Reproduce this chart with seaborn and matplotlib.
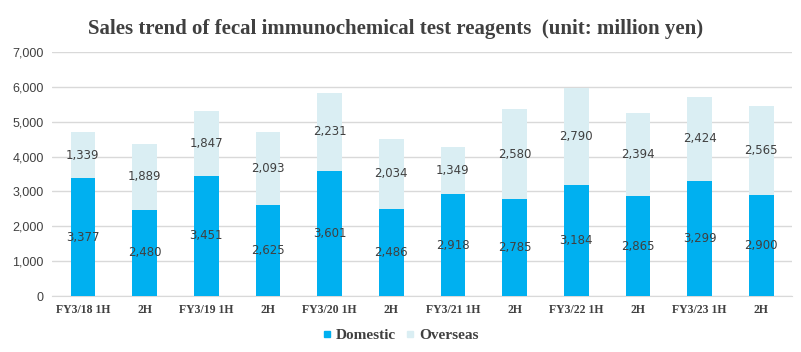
import matplotlib
matplotlib.use('Agg')
import matplotlib.pyplot as plt
import pandas as pd
import seaborn as sns
from matplotlib.lines import Line2D

# half-year periods
periods = ['FY3/18 1H', '2H', 'FY3/19 1H', '2H', 'FY3/20 1H', '2H',
           'FY3/21 1H', '2H', 'FY3/22 1H', '2H', 'FY3/23 1H', '2H']
domestic = [3377, 2480, 3451, 2625, 3601, 2486, 2918, 2785, 3184, 2865, 3299, 2900]
overseas = [1339, 1889, 1847, 2093, 2231, 2034, 1349, 2580, 2790, 2394, 2424, 2565]

col_dom = '#00B0F0'
col_ovs = '#DAEEF3'

df = pd.DataFrame({'id': [str(i) for i in range(len(periods))],
                   'Domestic': domestic, 'Overseas': overseas})
df['Total'] = df['Domestic'] + df['Overseas']

sns.set_style('white')
fig = plt.figure(figsize=(8.01, 3.52), dpi=100)
ax = fig.add_axes([0.065, 0.159, 0.924, 0.693])

# total bar first (overseas on top), domestic drawn over it
sns.barplot(data=df, x='id', y='Total', color=col_ovs, width=0.4, ax=ax,
            saturation=1, linewidth=0, zorder=2)
sns.barplot(data=df, x='id', y='Domestic', color=col_dom, width=0.4, ax=ax,
            saturation=1, linewidth=0, zorder=3)

# value labels in the middle of each segment
for i in range(len(periods)):
    ax.text(i, domestic[i] / 2, f'{domestic[i]:,}', ha='center', va='center',
            fontsize=8.5, color='#404040', family='DejaVu Sans', zorder=5)
    ax.text(i, domestic[i] + overseas[i] / 2, f'{overseas[i]:,}', ha='center',
            va='center', fontsize=8.5, color='#404040', family='DejaVu Sans', zorder=5)

ax.set_ylim(0, 7000)
ax.set_yticks(range(0, 7001, 1000))
ax.set_yticklabels([f'{v:,}' for v in range(0, 7001, 1000)],
                   fontsize=9, color='#404040', family='Liberation Sans')
ax.set_xticks(range(len(periods)))
ax.set_xticklabels(periods, fontsize=8.5, fontweight='bold', color='#404040',
                   family='Liberation Serif')
ax.set_xlim(-0.5, len(periods) - 0.5)
ax.set_xlabel('')
ax.set_ylabel('')
ax.grid(axis='y', color='#D9D9D9', linewidth=1, zorder=0)
ax.set_axisbelow(True)
ax.tick_params(axis='both', length=0, pad=6)
for s in ['top', 'right', 'left']:
    ax.spines[s].set_visible(False)
ax.spines['bottom'].set_color('#D9D9D9')

fig.text(0.494, 0.918, 'Sales trend of fecal immunochemical test reagents  (unit: million yen)',
         ha='center', va='center', fontsize=15, fontweight='bold', color='#404040',
         family='Liberation Serif')

handles = [Line2D([], [], marker='s', linestyle='', markersize=5, color=col_dom),
           Line2D([], [], marker='s', linestyle='', markersize=5, color=col_ovs)]
fig.legend(handles, ['Domestic', 'Overseas'], loc='center', bbox_to_anchor=(0.5, 0.048),
           ncol=2, frameon=False, handlelength=0.6, handletextpad=0.3, columnspacing=0.6,
           prop={'family': 'Liberation Serif', 'weight': 'bold', 'size': 11},
           labelcolor='#404040')

fig.savefig('out.png', dpi=100)
